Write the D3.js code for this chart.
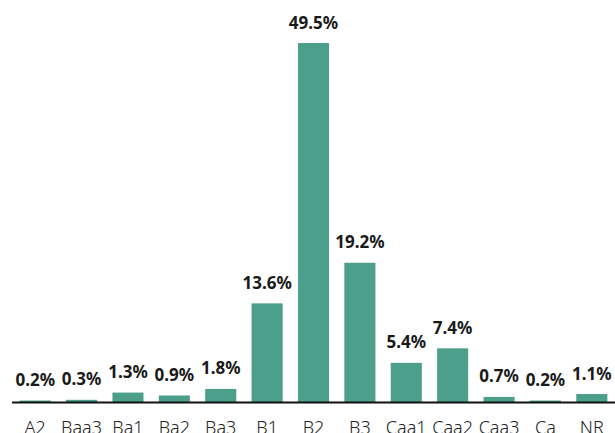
<!DOCTYPE html>
<html>
<head>
<meta charset="utf-8">
<script src="https://cdn.jsdelivr.net/npm/d3@7"></script>
<style>
  html, body { margin: 0; padding: 0; background: #fff; overflow: hidden; }
  svg { display: block; }
  .val { font-family: "Noto Sans", "Open Sans", sans-serif; font-weight: 700; font-size: 17px; fill: #1a1a1a; }
  .cat { font-family: "Noto Sans", "Open Sans", sans-serif; font-weight: 300; font-size: 18px; fill: #222; }
</style>
</head>
<body>
<script>
var ratings = ["A2", "Baa3", "Ba1", "Ba2", "Ba3", "B1", "B2", "B3", "Caa1", "Caa2", "Caa3", "Ca", "NR"];
var shares = [0.2, 0.3, 1.3, 0.9, 1.8, 13.6, 49.5, 19.2, 5.4, 7.4, 0.7, 0.2, 1.1];

var width = 615, height = 433;
var baseY = 402, topY = 43;

var svg = d3.select("body").append("svg")
  .attr("width", width)
  .attr("height", height);

var x = d3.scaleBand()
  .domain(ratings)
  .range([12, 615])
  .paddingInner(0.33)
  .paddingOuter(0.165);

var y = d3.scaleLinear()
  .domain([0, 49.5])
  .range([baseY, topY]);

var data = ratings.map(function(r, i){ return {r: r, v: shares[i]}; });

svg.selectAll(".bar").data(data).enter().append("rect")
  .attr("class", "bar")
  .attr("x", function(d){ return x(d.r); })
  .attr("y", function(d){ return y(d.v); })
  .attr("width", x.bandwidth())
  .attr("height", function(d){ return baseY - y(d.v); })
  .attr("fill", "#4c9f8a");

svg.selectAll(".val").data(data).enter().append("text")
  .attr("class", "val")
  .attr("x", function(d){ return x(d.r) + x.bandwidth()/2; })
  .attr("y", function(d){ return y(d.v) - 14.5; })
  .attr("text-anchor", "middle")
  .text(function(d){ return d.v.toFixed(1) + "%"; });

// baseline
svg.append("line")
  .attr("x1", 12).attr("x2", 615)
  .attr("y1", baseY + 0.5).attr("y2", baseY + 0.5)
  .attr("stroke", "#111")
  .attr("stroke-width", 2);

svg.selectAll(".cat").data(ratings).enter().append("text")
  .attr("class", "cat")
  .attr("x", function(d){ return x(d) + x.bandwidth()/2; })
  .attr("y", 434)
  .attr("text-anchor", "middle")
  .text(function(d){ return d; });
</script>
</body>
</html>
